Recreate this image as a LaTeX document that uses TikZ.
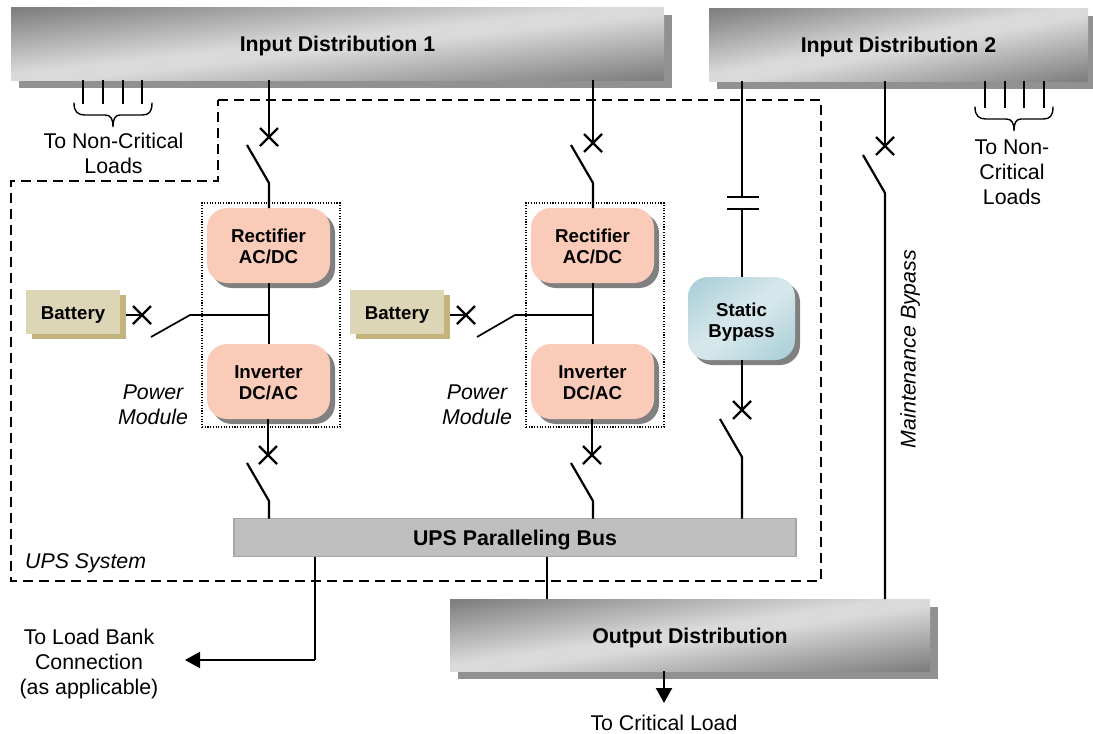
\documentclass[tikz,border=0pt]{standalone}
\usepackage{fontspec}
\setmainfont{Liberation Sans}
\usetikzlibrary{shadows,shapes.misc,arrows.meta}
\definecolor{bardark}{HTML}{808080}
\definecolor{barlight}{HTML}{DADADA}
\definecolor{shadowgray}{HTML}{919191}
\definecolor{modfill}{HTML}{FACBB8}
\definecolor{modshadow}{HTML}{808080}
\definecolor{bluedark}{HTML}{A8CDD6}
\definecolor{bluelight}{HTML}{D5E7EB}
\definecolor{batfill}{HTML}{DCD6B6}
\definecolor{batshadow}{HTML}{C2B47C}
\definecolor{busfill}{HTML}{BFBFBF}
\definecolor{busedge}{HTML}{A6A6A6}
\pgfdeclarehorizontalshading{grayplate}{100bp}{color(0bp)=(bardark); color(16bp)=(bardark); color(47bp)=(barlight); color(53bp)=(barlight); color(84bp)=(bardark); color(100bp)=(bardark)}
\pgfdeclarehorizontalshading{blueplate}{100bp}{color(0bp)=(bluedark); color(16bp)=(bluedark); color(47bp)=(bluelight); color(53bp)=(bluelight); color(84bp)=(bluedark); color(100bp)=(bluedark)}
\newcommand{\bigsize}{\fontsize{21.33}{25}\selectfont}
\newcommand{\smallsize}{\fontsize{18.67}{21}\selectfont}
% gradient plate: shading, centre x, centre y, width, height, corner radius, shadow colour, shadow offset
\newcommand{\gradplate}[8]{%
  \fill[#7,rounded corners=#6pt,shift={(#8)}] (#2-#4/2,#3-#5/2) rectangle (#2+#4/2,#3+#5/2);
  \begin{scope}
  \clip[rounded corners=#6pt] (#2-#4/2,#3-#5/2) rectangle (#2+#4/2,#3+#5/2);
  \shade[transform canvas={shift={(#2,#3)},xscale=#4/100,yscale=#5/100},
    shading=#1,shading angle=-45] (-50,-50) rectangle (50,50);
  \end{scope}}
\tikzset{
  x=1pt,y=-1pt,
  wire/.style={line width=2.2pt,black},
  thinwire/.style={line width=1.7pt,black},
  breaker/.style={cross out,draw,line width=2.2pt,minimum size=18pt,inner sep=0pt,outer sep=0pt},
  distbar/.style={rectangle,inner sep=0pt,outer sep=0pt,
    text height=16.2pt,text depth=0pt,
    font=\bigsize\bfseries,align=center},
  power/.style={rectangle,rounded corners=20pt,inner sep=0pt,outer sep=0pt,fill=modfill,
    general shadow={fill=modshadow,shadow xshift=5pt,shadow yshift=-5pt},
    minimum width=123pt,minimum height=75pt,
    text height=36.4pt,text depth=0pt,
    font=\smallsize\bfseries,align=center},
  bypassbox/.style={rectangle,rounded corners=20pt,inner sep=0pt,outer sep=0pt,
    minimum width=107pt,minimum height=83pt,
    text height=38.4pt,text depth=0pt,
    font=\smallsize\bfseries,align=center},
  battery/.style={rectangle,inner sep=0pt,outer sep=0pt,fill=batfill,
    general shadow={fill=batshadow,shadow xshift=6pt,shadow yshift=-5pt},
    minimum width=94pt,minimum height=44pt,
    text height=15.4pt,text depth=0pt,
    font=\smallsize\bfseries},
  busbar/.style={rectangle,inner sep=0pt,outer sep=0pt,fill=busfill,draw=busedge,line width=1.2pt,
    minimum width=562pt,minimum height=38pt,
    text height=16.2pt,text depth=0pt,font=\bigsize\bfseries},
  modulebox/.style={rectangle,draw,line width=1.1pt,dash pattern=on 1.1pt off 1.6pt,inner sep=0pt,
    minimum width=138pt,minimum height=224pt},
  plain/.style={font=\bigsize,align=center,inner sep=0pt},
  emph/.style={font=\bigsize\itshape,align=center,inner sep=0pt},
  systembound/.style={line width=2pt,dash pattern=on 10pt off 6pt},
  plate/.style={line width=2.2pt},
  brace/.style={line width=1.4pt,line cap=round},
  arrowwire/.style={wire,-{Triangle[width=16pt,length=15pt]}}
}
\begin{document}
\begin{tikzpicture}
\useasboundingbox (0,0) rectangle (1093,734);
\clip (0,0) rectangle (1093,734);
% system boundary
\coordinate (s1) at (218,100);\coordinate (s2) at (821,100);\coordinate (s3) at (821,581);
\coordinate (s4) at (11,581);\coordinate (s5) at (11,181);\coordinate (s6) at (218,181);
\draw[systembound] (s1) -- (s2) -- (s3) -- (s4) -- (s5) -- (s6) -- cycle;
% boxes
\gradplate{grayplate}{337.5}{43.5}{653}{73}{0}{shadowgray}{7.5,8}
\gradplate{grayplate}{898.5}{44.5}{379}{73}{0}{shadowgray}{7.5,8}
\gradplate{grayplate}{690}{635}{480}{72}{0}{shadowgray}{7.5,8}
\gradplate{blueplate}{741.5}{318.5}{107}{83}{20}{modshadow}{5,5}
\node[distbar,minimum width=653pt,minimum height=73pt] (in1) at (337.5,43.5) {Input Distribution 1};
\node[distbar,minimum width=379pt,minimum height=73pt] (in2) at (898.5,44.5) {Input Distribution 2};
\node[distbar,minimum width=480pt,minimum height=72pt] (out) at (690,635) {Output Distribution};
\node[modulebox] (pm1) at (271,315) {};
\node[modulebox] (pm2) at (595,315) {};
\node[power] (rect1) at (268.5,245.5) {Rectifier\\AC/DC};
\node[power] (inv1) at (268.5,381.5) {Inverter\\DC/AC};
\node[power] (rect2) at (592.5,245.5) {Rectifier\\AC/DC};
\node[power] (inv2) at (592.5,381.5) {Inverter\\DC/AC};
\node[battery] (bat1) at (73,312) {Battery};
\node[battery] (bat2) at (397,312) {Battery};
\node[bypassbox] (sb) at (741.5,318.5) {Static\\Bypass};
\node[busbar] (bus) at (515,537.5) {UPS Paralleling Bus};
% breakers
\node[breaker] (x1) at (269,137) {};
\node[breaker] (x2) at (593,143) {};
\node[breaker] (x3) at (885,146) {};
\node[breaker] (x4) at (268,455) {};
\node[breaker] (x5) at (592,455) {};
\node[breaker] (x6) at (742,410) {};
\node[breaker] (x7) at (142,315) {};
\node[breaker] (x8) at (466,315) {};
% blade ends
\coordinate (t1) at (247,145);\coordinate (h1) at (269,183);
\coordinate (t2) at (571,145);\coordinate (h2) at (593,183);
\coordinate (t3) at (863,155);\coordinate (h3) at (885,193);
\coordinate (t4) at (247,463);\coordinate (h4) at (269,501);
\coordinate (t5) at (571,463);\coordinate (h5) at (593,501);
\coordinate (t6) at (720,419);\coordinate (h6) at (742,457);
\coordinate (t7) at (151,337);\coordinate (h7) at (190,315);
\coordinate (t8) at (477,337);\coordinate (h8) at (515,315);
\coordinate (j1) at (269,315);\coordinate (j2) at (593,315);
% feeders
\draw[wire] (in1.south -| x1) -- (x1.center);
\draw[wire] (t1) -- (h1) -- (h1 |- rect1.north);
\draw[wire] (in1.south -| x2) -- (x2.center);
\draw[wire] (t2) -- (h2) -- (h2 |- rect2.north);
\draw[wire] (in2.south -| x3) -- (x3.center);
\draw[wire] (t3) -- (h3) -- (h3 |- out.north);
\draw[wire] (rect1.south -| j1) -- (inv1.north -| j1);
\draw[wire] (rect2.south -| j2) -- (inv2.north -| j2);
\draw[wire] (inv1.south -| x4) -- (x4.center);
\draw[wire] (t4) -- (h4) -- (h4 |- bus.north);
\draw[wire] (inv2.south -| x5) -- (x5.center);
\draw[wire] (t5) -- (h5) -- (h5 |- bus.north);
\draw[wire] (sb.south -| x6) -- (x6.center);
\draw[wire] (t6) -- (h6) -- (h6 |- bus.north);
\draw[thinwire] (bat1.east |- x7) ++(6,0) -- (x7.center);
\draw[thinwire] (t7) -- (h7) -- (j1);
\draw[thinwire] (bat2.east |- x8) ++(6,0) -- (x8.center);
\draw[thinwire] (t8) -- (h8) -- (j2);
% static bypass feed with contactor
\coordinate (c1) at (742,197);\coordinate (c2) at (742,209);
\coordinate (c1l) at (727,197);\coordinate (c1r) at (759,197);
\coordinate (c2l) at (727,209);\coordinate (c2r) at (759,209);
\draw[wire] (in2.south -| c1) -- (c1);
\draw[plate] (c1l) -- (c1r);
\draw[plate] (c2l) -- (c2r);
\draw[wire] (c2) -- (sb.north -| c2);
% outputs
\coordinate (o1) at (547,557);
\draw[wire] (bus.south -| o1) -- (out.north -| o1);
\coordinate (lb1) at (315,660);\coordinate (lb2) at (185,660);
\draw[wire] (bus.south -| lb1) -- (lb1);
\draw[arrowwire] (lb1) -- (lb2);
\coordinate (cl) at (664,703);
\draw[arrowwire] (out.south -| cl) -- (cl);
% non critical load feeds
\foreach \n/\xx in {a/83,b/103,c/123,d/142}{
  \coordinate (l\n) at (\xx,104);
  \draw[wire] (in1.south -| l\n) -- (l\n);
}
\foreach \n/\xx in {e/985,f/1005,g/1024,h/1044}{
  \coordinate (l\n) at (\xx,108);
  \draw[wire] (in2.south -| l\n) -- (l\n);
}
\foreach \dx/\dy in {0/0,901/4}{
\begin{scope}[shift={(\dx,\dy)}]
\draw[brace] (74,103) .. controls (74,112) and (78,115) .. (85,115) -- (105,115)
  .. controls (111,115) and (113,119) .. (113,127) .. controls (113,119) and (115,115) .. (120,115)
  -- (142,115) .. controls (149,115) and (152,112) .. (152,103);
\end{scope}}
% labels
\node[plain] (t1l) at (113.5,153) {To Non-Critical\\Loads};
\node[plain] (t2l) at (1012,172.5) {To Non-\\Critical\\Loads};
\node[emph] (pm1l) at (153,404.5) {Power\\Module};
\node[emph] (pm2l) at (477,404.5) {Power\\Module};
\node[emph,anchor=west] (ups) at (25,563) {UPS System};
\node[emph,rotate=90] (mb) at (910,349) {Maintenance Bypass};
\node[plain] (lbl) at (89,664) {To Load Bank\\Connection\\(as applicable)};
\node[plain] (cll) at (664,723) {To Critical Load};
\end{tikzpicture}
\end{document}
